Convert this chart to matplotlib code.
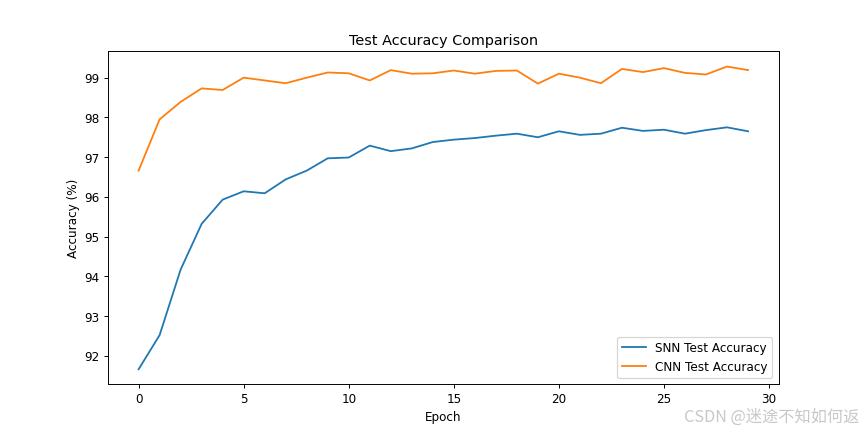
import matplotlib
matplotlib.use('Agg')
import matplotlib.pyplot as plt

epochs = list(range(30))
snn_acc = [91.66, 92.52, 94.17, 95.32, 95.93, 96.14, 96.09, 96.44, 96.66, 96.97,
           96.99, 97.29, 97.15, 97.22, 97.38, 97.44, 97.48, 97.54, 97.59, 97.50,
           97.65, 97.56, 97.59, 97.74, 97.66, 97.69, 97.59, 97.68, 97.75, 97.65]
cnn_acc = [96.66, 97.95, 98.39, 98.73, 98.69, 99.00, 98.93, 98.86, 99.00, 99.13,
           99.11, 98.93, 99.19, 99.10, 99.11, 99.18, 99.10, 99.17, 99.18, 98.85,
           99.10, 99.00, 98.86, 99.22, 99.14, 99.24, 99.12, 99.08, 99.28, 99.19]

fig = plt.figure(figsize=(10, 5), dpi=86.5)
plt.plot(epochs, snn_acc, label='SNN Test Accuracy')
plt.plot(epochs, cnn_acc, label='CNN Test Accuracy')
plt.title('Test Accuracy Comparison')
plt.xlabel('Epoch')
plt.ylabel('Accuracy (%)')
plt.legend(loc='lower right')

# CSDN watermark
fig.text(0.994, 0.035, 'CSDN @迷途不知如何返', ha='right', va='center',
         fontsize=13.5, color='#c8c8c8',
         family=['Noto Sans CJK SC', 'DejaVu Sans'])

plt.savefig('out.png', dpi=86.5)
